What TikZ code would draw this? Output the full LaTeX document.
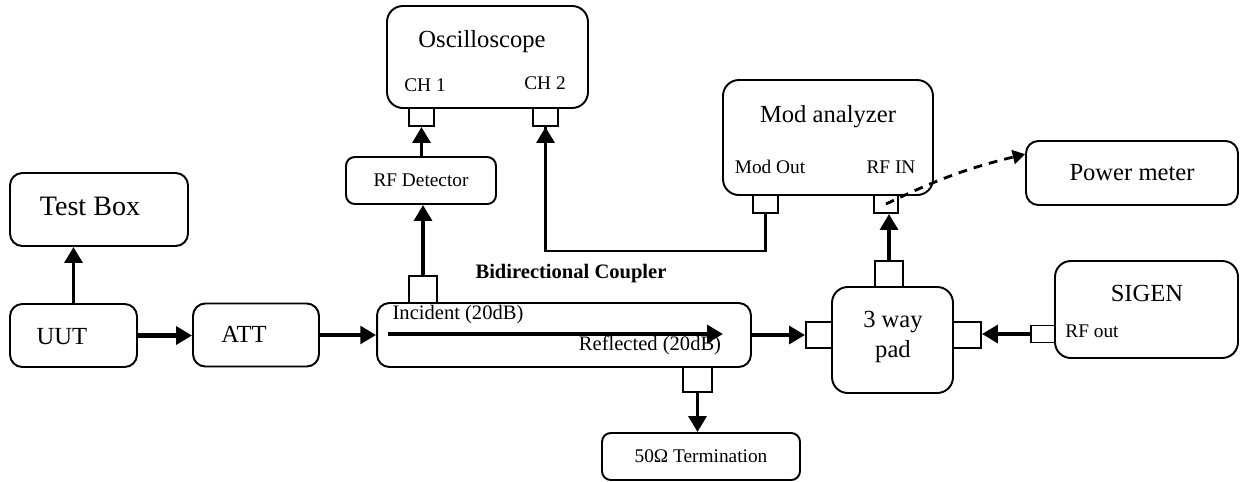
\documentclass[tikz,border=0pt]{standalone}
\usepackage{fontspec}
\setmainfont{Liberation Serif}
\usepackage{tikz}
\usetikzlibrary{arrows.meta}
\tikzstyle{device} = [rectangle, rounded corners=7pt, draw=black, line width=1.1pt, text centered]
\tikzstyle{smalldev} = [device, rounded corners=5pt]
\tikzstyle{port} = [rectangle, draw=black, line width=1.1pt, inner sep=0pt]
\tikzstyle{arrow} = [line width=2.2pt, ->]
\tikzstyle{feed} = [line width=1.4pt]
\tikzstyle{signal} = [line width=1.6pt, dash pattern=on 5pt off 4pt, -{Triangle[length=7pt,width=8pt]}]
\tikzstyle{hugetext} = [font=\fontsize{16}{19}\selectfont, anchor=base]
\tikzstyle{bigtext} = [font=\fontsize{14}{17}\selectfont, anchor=base]
\tikzstyle{smalltext} = [font=\fontsize{11}{13}\selectfont, anchor=base]
\begin{document}
\begin{tikzpicture}[x=0.02cm, y=-0.02cm, >={Triangle[length=9pt,width=10pt]}]
		\useasboundingbox (0,0) rectangle (1259,481);
		% boxes
		\node (testbox) [device, minimum width=3.56cm, minimum height=1.46cm] at (99,209.5) {};
		\node (uut) [device, minimum width=2.54cm, minimum height=1.26cm] at (73.5,335.5) {};
		\node (att) [device, minimum width=2.52cm, minimum height=1.26cm] at (256,335) {};
		\node (coupler) [device, minimum width=7.48cm, minimum height=1.28cm] at (564,335) {};
		\node (term) [smalldev, minimum width=3.96cm, minimum height=0.94cm, font=\fontsize{11}{13}\selectfont] at (701,456.5) {50Ω Termination};
		\node (rfdet) [smalldev, minimum width=3cm, minimum height=0.94cm, font=\fontsize{11}{13}\selectfont] at (421,180.5) {RF Detector};
		\node (osc) [device, rounded corners=9pt, minimum width=4.02cm, minimum height=2.04cm] at (487.5,57) {};
		\node (modan) [device, rounded corners=9pt, minimum width=4.2cm, minimum height=2.3cm] at (828,137.5) {};
		\node (pwr) [device, minimum width=4.24cm, minimum height=1.28cm, font=\fontsize{14}{17}\selectfont] at (1132,173) {Power meter};
		\node (pad) [device, rounded corners=9pt, minimum width=2.42cm, minimum height=2.12cm] at (892.5,340) {};
		\node (sigen) [device, rounded corners=9pt, minimum width=3.66cm, minimum height=1.94cm] at (1146.5,309.5) {};

		% ports
		\node (cplup) [port, minimum width=0.56cm, minimum height=0.54cm] at (423,289.5) {};
		\node (cpldown) [port, minimum width=0.58cm, minimum height=0.5cm] at (697.5,379.5) {};
		\node (ch1) [port, minimum width=0.5cm, minimum height=0.36cm] at (421.5,117) {};
		\node (ch2) [port, minimum width=0.5cm, minimum height=0.36cm] at (545.5,117) {};
		\node (modout) [port, minimum width=0.5cm, minimum height=0.36cm] at (765.5,204) {};
		\node (rfin) [port, minimum width=0.48cm, minimum height=0.36cm] at (886,204) {};
		\node (padtop) [port, minimum width=0.56cm, minimum height=0.52cm] at (889,274) {};
		\node (padleft) [port, minimum width=0.52cm, minimum height=0.52cm] at (819,335) {};
		\node (padright) [port, minimum width=0.56cm, minimum height=0.52cm] at (967,335) {};
		\node (sigout) [port, minimum width=0.48cm, minimum height=0.34cm] at (1043,334) {};

		% labels
		\node (testboxlbl) [hugetext] at (90,215) {Test Box};
		\node (uutlbl) [bigtext] at (62,344) {UUT};
		\node (attlbl) [bigtext] at (244,342) {ATT};
		\node (osclbl) [bigtext] at (482,47) {Oscilloscope};
		\node (ch1lbl) [smalltext] at (425,91) {CH 1};
		\node (ch2lbl) [smalltext] at (545,89) {CH 2};
		\node (cpllbl) [smalltext, font=\fontsize{11.7}{14}\selectfont\bfseries] at (571,278) {Bidirectional Coupler};
		\node (inclbl) [smalltext, font=\fontsize{11.7}{14}\selectfont] at (458,319) {Incident (20dB)};
		\node (refllbl) [smalltext, font=\fontsize{11.7}{14}\selectfont] at (650,350) {Reflected (20dB)};
		\node (modanlbl) [bigtext] at (828,122) {Mod analyzer};
		\node (modoutlbl) [smalltext] at (770,173) {Mod Out};
		\node (rfinlbl) [smalltext] at (891,173) {RF IN};
		\node (padlbl) [bigtext, anchor=center, align=center] at (893,337) {3 way\\pad};
		\node (sigenlbl) [bigtext] at (1147,301) {SIGEN};
		\node (sigoutlbl) [smalltext] at (1092,337) {RF out};

		% inner path of the coupler
		\coordinate (incin) at (388,334);
		\coordinate (incout) at (723,334);

		\draw [arrow] (uut.north) -- (uut.north |- testbox.south);
		\draw [arrow, line width=2.8pt] (uut.east) -- (uut.east -| att.west);
		\draw [arrow] (att.east) -- (coupler.west);
		\draw [arrow] (incin) -- (incout);
		\draw [arrow] (coupler.east) -- (padleft.west);
		\draw [arrow] (cplup.north) -- (cplup.north |- rfdet.south);
		\draw [arrow] (ch1.south |- rfdet.north) -- (ch1.south);
		\draw [arrow] (cpldown.south) -- (cpldown.south |- term.north);
		\draw [feed] (modout.south) -- ++(0,37) -| (ch2.south);
		\draw [arrow] (ch2.south) ++(0,120) -- (ch2.south);
		\draw [arrow] (padtop.north) -- (padtop.north |- rfin.south);
		\draw [arrow] (sigout.west) -- (sigout.west -| padright.east);
		\draw [signal] (rfin.center) to[bend left=6] (pwr.170);
	\end{tikzpicture}
\end{document}
